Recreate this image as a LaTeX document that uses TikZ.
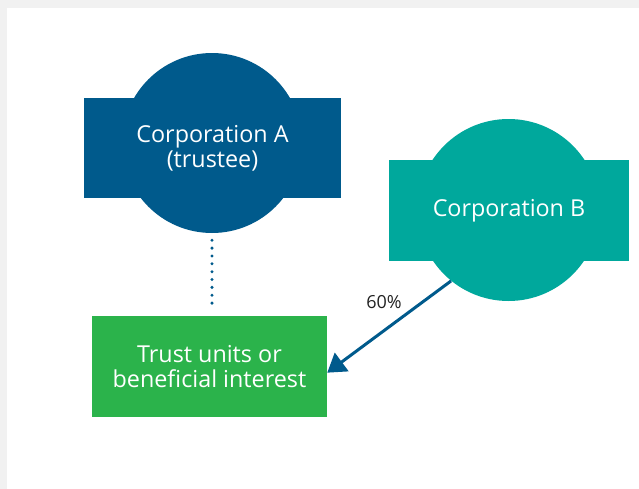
\documentclass[tikz,border=0pt]{standalone}
\usepackage{fontspec}
\setmainfont{Open Sans}
\usetikzlibrary{arrows.meta}
\definecolor{pagegray}{RGB}{241,241,241}
\definecolor{corpblue}{RGB}{0,90,140}
\definecolor{corpteal}{RGB}{0,168,156}
\definecolor{trustgreen}{RGB}{43,179,75}
\definecolor{labelgray}{RGB}{34,34,34}
\tikzset{
  disc/.style={circle, fill=#1, draw=none, inner sep=0pt},
  bar/.style={rectangle, fill=#1, draw=none, text=white, align=center,
    inner sep=0pt, font=\fontsize{17.5}{19}\selectfont},
  holding/.style={dash pattern=on 0pt off 5.89pt, line cap=round,
    line width=2.5pt, color=corpblue},
  stake/.style={-{Triangle[length=13.5pt,width=17pt]}, line width=2.25pt,
    color=corpblue},
}
\begin{document}
\begin{tikzpicture}[x=0.75pt,y=0.75pt,yscale=-1]
\useasboundingbox (0,0) rectangle (639,489);
%Shape: Rectangle [page]
\fill [pagegray] (0,0) rectangle (639,489);
\fill [white] (7,8) rectangle (639,489);

%Shape: Circle [corporation A]
\node [disc=corpblue, minimum size=135pt] (corpAc) at (212,143) {};
%Shape: Rectangle [corporation A]
\node [bar=corpblue, minimum width=192.75pt, minimum height=75pt] (corpA) at (212.5,148) {Corporation A\\(trustee)};

%Shape: Circle [corporation B]
\node [disc=corpteal, minimum size=136.5pt] (corpBc) at (508.5,210) {};
%Shape: Rectangle [corporation B]
\node [bar=corpteal, minimum width=180pt, minimum height=75.75pt] (corpB) at (509,210.5) {Corporation B};

%Shape: Rectangle [trust]
\node [bar=trustgreen, minimum width=176.25pt, minimum height=75.75pt] (trust) at (209.5,366.5) {Trust units or\\beneficial interest};

%Dotted Lines
\draw [holding, shorten <=5.25pt, shorten >=4pt] (corpAc.south) -- (corpAc.south |- trust.north);
%Straight Lines [arrow]
\draw [stake] (corpBc.231.6) -- (trust.-3);

% Text Node
\node [text=labelgray, font=\fontsize{13.5}{16}\selectfont, inner sep=0.75pt] (share) at (384,302) {60\%};

\end{tikzpicture}
\end{document}
